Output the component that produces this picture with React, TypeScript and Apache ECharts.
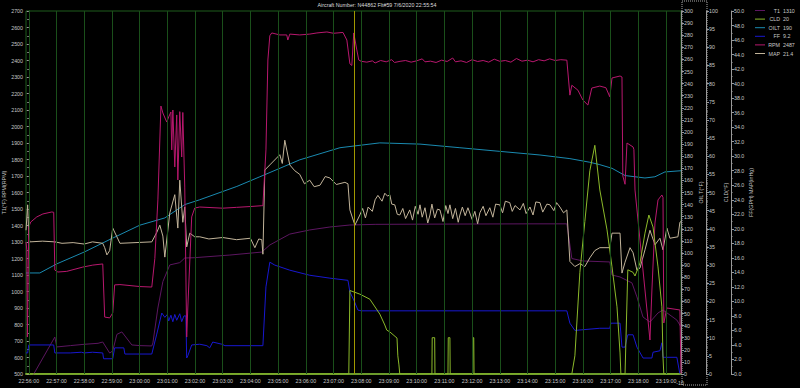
import React, { useEffect, useRef } from "react";
import * as echarts from "echarts";

const TITLE = "Aircraft Number: N44862 Flt#59 7/6/2020 22:55:54";
// x values are minutes after 22:56:00
const X_MIN = -0.1;
const X_MAX = 23.54;
const MINUTE_TICKS = Array.from({ length: 24 }, (_, i) => i);
const CURSOR_MIN = 11.73;

const LEGEND_NAMES = ["T1", "CLD", "OILT", "FF", "RPM", "MAP"];
const LEGEND_VALUES = ["1310", "20", "190", "9.2", "2487", "21.4"];
const COLORS = ["#5c1660", "#8cba2a", "#1a8ab0", "#1818d0", "#b8186e", "#c2b49a"];

const RPM: [number, number][] = [
  [-0.1, 1300], [-0.07, 1252], [-0.05, 724], [0, 1391], [0.07, 1421], [0.29, 1452], [0.51, 1470],
  [0.83, 1482], [0.9, 1480], [0.94, 1130], [1.05, 1118], [1.37, 1122], [1.95, 1148], [2.31, 1160],
  [2.67, 1167], [2.74, 845], [2.92, 840], [3.03, 870], [3.1, 1040], [3.29, 1042], [4.01, 1030],
  [4.44, 1027], [4.55, 1200], [4.66, 1555], [4.77, 2124], [4.84, 2082], [4.98, 2027], [5.05, 2058],
  [5.13, 2088], [5.16, 1858], [5.2, 2100], [5.27, 1755], [5.34, 2070], [5.38, 1676], [5.45, 2090],
  [5.52, 1815], [5.56, 2085], [5.63, 1633], [5.7, 724], [5.74, 900], [5.88, 1452], [5.99, 1506],
  [6.17, 1512], [7.0, 1505], [7.5, 1510], [8.0, 1515], [8.41, 1520], [8.45, 1520], [8.56, 1858],
  [8.63, 2403], [8.7, 2550], [8.77, 2567], [9.06, 2555], [9.31, 2555], [9.35, 2524], [9.42, 2560],
  [9.78, 2555], [10.14, 2560], [10.4, 2567], [10.76, 2573], [11.0, 2565], [11.34, 2570], [11.48, 2524],
  [11.59, 2380], [11.66, 2370], [11.73, 2567], [11.84, 2464], [11.91, 2403],
  [12.0, 2395], [12.2, 2390], [12.4, 2398], [12.5, 2385], [12.7, 2400], [12.9, 2392], [13.1, 2405],
  [13.2, 2388], [13.4, 2395], [13.6, 2400], [13.8, 2390], [14.0, 2398], [14.2, 2410], [14.3, 2392],
  [14.5, 2396], [14.7, 2388], [14.9, 2402], [15.1, 2394], [15.3, 2415], [15.4, 2392], [15.6, 2398],
  [15.8, 2388], [16.0, 2405], [16.2, 2394], [16.4, 2400], [16.6, 2390], [16.8, 2408], [17.0, 2395],
  [17.2, 2400], [17.4, 2390], [17.6, 2412], [17.8, 2396], [18.0, 2402], [18.2, 2392], [18.4, 2405],
  [18.6, 2398], [18.8, 2410], [19.0, 2400], [19.2, 2405], [19.42, 2402],
  [19.53, 2190], [19.6, 2250], [19.82, 2220], [20.0, 2160], [20.18, 2130], [20.32, 2233], [20.61, 2245],
  [20.83, 2235], [20.97, 2180], [21.05, 2294], [21.34, 2306], [21.41, 2300], [21.44, 1700], [21.52, 1650],
  [21.59, 1900], [21.81, 1876], [21.84, 1860], [21.88, 1615], [22.06, 1312], [22.24, 1009], [22.42, 706],
  [22.49, 1009], [22.6, 1415], [22.71, 1555], [22.85, 1585], [22.89, 1570], [22.92, 809], [23.03, 900],
  [23.5, 888], [23.54, 500],
];

const T1: [number, number][] = [
  [0.0, 450], [0.18, 500], [0.94, 724], [1.01, 664], [1.5, 672], [2.0, 680], [2.5, 686], [2.67, 694],
  [2.92, 627], [3.03, 640], [3.18, 740], [3.36, 755], [3.72, 676], [4.01, 672], [4.44, 670], [4.48, 688],
  [4.66, 900], [4.84, 1060], [5.09, 1161], [5.45, 1175], [5.63, 1203], [5.99, 1205], [7.26, 1221],
  [8.41, 1239], [8.7, 1282], [9.42, 1348], [10.14, 1373], [10.87, 1391], [11.59, 1403], [12.5, 1407],
  [14.0, 1408], [16.0, 1409], [18.0, 1410], [19.42, 1410], [19.6, 1200], [20.0, 1185], [20.97, 1179],
  [21.05, 1100], [21.34, 1088], [21.77, 1052], [21.95, 967], [22.17, 845], [22.42, 815], [22.71, 870],
  [22.89, 888], [23.39, 827], [23.54, 785],
];

const OILT: [number, number][] = [
  [-0.1, 83.5], [0.4, 83.5], [1.01, 91], [2.02, 101], [3.0, 112], [4.01, 123], [4.91, 129], [5.63, 140],
  [6.17, 144], [7.51, 155], [8.34, 163], [9.78, 177], [11.23, 187], [12.67, 191], [14.12, 190],
  [15.56, 187], [17.0, 184], [18.45, 181], [19.53, 178], [20.25, 175], [20.61, 173], [21.05, 170],
  [21.52, 164], [22.24, 162], [22.6, 163], [22.96, 167], [23.54, 168],
];

const FF: [number, number][] = [
  [-0.1, 2.9], [-0.04, 2.9], [0.0, 4.0], [0.9, 4.0], [0.94, 2.9], [1.5, 2.9], [1.9, 3.0], [2.0, 2.9],
  [2.3, 3.0], [2.67, 2.9], [2.7, 2.1], [3.03, 2.1], [3.1, 3.6], [3.43, 3.6], [3.47, 2.75], [4.44, 2.75],
  [4.62, 5.5], [4.8, 8.4], [4.91, 7.8], [5.0, 8.2], [5.05, 7.3], [5.13, 8.1], [5.2, 7.2], [5.27, 8.2],
  [5.34, 7.4], [5.45, 8.3], [5.52, 7.2], [5.6, 8.0], [5.67, 8.0], [5.7, 2.2], [5.74, 2.5], [5.88, 4.0],
  [6.17, 4.1], [6.43, 3.9], [6.53, 3.6], [6.64, 4.4], [6.97, 4.1], [7.08, 3.9], [8.45, 3.9], [8.56, 12],
  [8.7, 15.4], [8.88, 15.0], [9.42, 14.3], [10.14, 13.6], [10.87, 13.2], [11.52, 12.9], [11.59, 11.3],
  [11.73, 10.2], [11.88, 8.8], [12.0, 8.7], [19.42, 8.7], [19.53, 7.0], [19.71, 6.0], [20.61, 6.3],
  [20.97, 6.3], [21.01, 7.0], [21.34, 7.0], [21.41, 3.7], [21.52, 3.7], [21.62, 5.4], [21.81, 5.4],
  [21.95, 3.7], [22.17, 2.2], [22.49, 2.2], [22.53, 3.0], [22.78, 3.2], [22.85, 4.3], [22.89, 2.3],
  [23.39, 2.3], [23.5, 0], [23.54, 0],
];

const MAP: [number, number][] = [
  [-0.1, 19.8], [-0.04, 23.3], [0.0, 19.0], [0.04, 18.2], [0.5, 18.3], [0.94, 18.2], [1.2, 18.0],
  [1.6, 18.1], [2.0, 17.9], [2.3, 18.2], [2.67, 18.0], [2.74, 17.4], [2.82, 16.4], [2.92, 17.0],
  [3.03, 20.1], [3.18, 18.9], [3.29, 18.0], [4.44, 18.2], [4.62, 19.5], [4.73, 20.5], [4.84, 19.0],
  [4.91, 16.1], [5.09, 22.2], [5.27, 24.7], [5.38, 20.1], [5.45, 26.7], [5.56, 20.9], [5.63, 23.0],
  [5.7, 17.5], [5.81, 19.4], [5.99, 18.9], [6.17, 18.9], [6.5, 18.6], [7.0, 18.8], [7.5, 18.5],
  [8.0, 18.7], [8.16, 17.4], [8.3, 18.6], [8.41, 18.5], [8.45, 16.5], [8.52, 28.1], [8.7, 28.8],
  [9.06, 30.2], [9.15, 29.0], [9.24, 32.2], [9.42, 28.8], [9.6, 28.0], [9.78, 27.5], [9.95, 26.2],
  [10.14, 26.7], [10.3, 25.8], [10.51, 26.0], [10.7, 27.2], [10.87, 27.0], [11.1, 26.1], [11.41, 26.4],
  [11.52, 26.2], [11.59, 22.6], [11.77, 20.5], [11.95, 21.9], [12.05, 22.8], [12.15, 21.5], [12.25, 23.0],
  [12.4, 22.4], [12.5, 24.0], [12.6, 24.6], [12.75, 23.8], [12.85, 24.9], [12.95, 24.5], [13.03, 24.7],
  [13.1, 23.4], [13.21, 23.3], [13.3, 22.0], [13.39, 21.9], [13.5, 22.8], [13.6, 21.4], [13.75, 22.6],
  [13.85, 21.2], [13.95, 23.1], [14.05, 22.0], [14.12, 23.3], [14.2, 21.6], [14.3, 22.9], [14.4, 20.8],
  [14.48, 21.9], [14.55, 23.4], [14.65, 21.5], [14.75, 22.7], [14.84, 22.6], [14.95, 21.0], [15.05, 23.2],
  [15.13, 22.1], [15.2, 23.3], [15.3, 21.4], [15.4, 22.8], [15.5, 20.9], [15.56, 21.9], [15.65, 23.0],
  [15.75, 21.8], [15.85, 22.9], [16.0, 21.3], [16.1, 22.4], [16.2, 20.7], [16.28, 22.2], [16.4, 23.1],
  [16.5, 21.8], [16.64, 22.9], [16.75, 21.6], [16.85, 23.4], [17.0, 23.3], [17.1, 22.2], [17.2, 23.8],
  [17.36, 23.6], [17.45, 22.4], [17.55, 23.2], [17.73, 22.6], [17.85, 23.5], [17.95, 22.1], [18.09, 23.0],
  [18.2, 21.9], [18.3, 23.7], [18.45, 23.6], [18.55, 22.3], [18.7, 23.4], [18.81, 23.3], [18.95, 22.5],
  [19.05, 23.6], [19.17, 23.0], [19.3, 22.2], [19.42, 22.6], [19.53, 15.5], [19.71, 14.8], [19.89, 15.2],
  [20.07, 14.8], [20.25, 16.0], [20.43, 17.0], [20.61, 17.4], [20.97, 17.4], [21.05, 19.4], [21.34, 19.4],
  [21.41, 13.9], [21.52, 15.4], [21.7, 17.4], [21.81, 16.7], [21.95, 14.3], [22.06, 14.6], [22.24, 17.1],
  [22.42, 19.8], [22.6, 17.8], [22.78, 18.7], [22.89, 17.1], [23.03, 20.1], [23.14, 18.7], [23.43, 18.9],
  [23.5, 20.9], [23.54, 21.0],
];

const CLD: [number, number][] = [
  [-0.1, 0], [11.55, 0], [11.59, 23], [11.95, 22], [12.31, 20.6], [12.67, 16.5], [12.85, 13.5],
  [12.92, 12.1], [13.03, 11.6], [13.29, 9.9], [13.32, 5], [13.36, 2.5], [13.39, 0], [14.55, 0],
  [14.56, 10], [14.65, 10], [14.66, 0], [15.13, 0], [15.14, 10], [15.2, 10], [15.21, 0], [16.02, 0],
  [16.03, 10], [16.06, 10], [16.07, 0], [19.6, 0], [19.71, 5], [19.89, 28], [20.07, 42], [20.25, 56],
  [20.43, 63], [20.61, 50.7], [20.87, 39.7], [21.05, 29.5], [21.23, 18.5], [21.34, 5.8], [21.37, 0],
  [21.52, 0], [21.62, 28.7], [21.81, 28], [21.88, 27], [22.06, 30.6], [22.24, 38.8], [22.38, 43.8],
  [22.53, 40.5], [22.71, 29.5], [22.85, 18.5], [22.89, 4.7], [22.92, 0], [23.54, 0],
];

const FONT = "Liberation Sans, Arial, sans-serif";
const FS = 5.3;
const LABEL_COLOR = "#c8c8c8";

function fmtTime(v: number) {
  const total = 22 * 60 + 56 + Math.round(v);
  const h = Math.floor(total / 60);
  const m = total % 60;
  return `${h}:${String(m).padStart(2, "0")}:00`;
}

function yAxisBase(extra: any) {
  return {
    type: "value",
    splitLine: { show: false },
    axisLine: { show: true, lineStyle: { color: "#9a9a9a", width: 1 } },
    axisTick: { show: true, length: 3, lineStyle: { color: "#9a9a9a" } },
    axisLabel: { color: LABEL_COLOR, fontSize: FS, fontFamily: FONT, margin: 3, formatter: (v: number) => String(v) },
    nameLocation: "middle",
    nameRotate: 90,
    nameMoveOverlap: false,
    nameTextStyle: { color: LABEL_COLOR, fontSize: FS, fontFamily: FONT },
    ...extra,
  };
}

function line(name: string, data: [number, number][], color: string, yAxisIndex: number, width = 1) {
  return {
    name,
    type: "line",
    data,
    yAxisIndex,
    showSymbol: false,
    symbol: "none",
    lineStyle: { color, width },
    itemStyle: { color },
    silent: true,
    z: 3,
  };
}

export default function App() {
  const ref = useRef<HTMLDivElement>(null);
  useEffect(() => {
    document.body.style.margin = "0";
    document.body.style.background = "#000";
    const chart = echarts.init(ref.current!, null, { renderer: "svg" });
    const textStyle = (text: string, align: string) => ({
      text,
      fill: LABEL_COLOR,
      fontSize: FS,
      fontFamily: FONT,
      align,
      verticalAlign: "middle",
    });
    const legendGraphics: any[] = [];
    LEGEND_NAMES.forEach((n, i) => {
      const y = 10.5 + i * 8.6;
      legendGraphics.push({
        type: "line",
        shape: { x1: 755, y1: y, x2: 765, y2: y },
        style: { stroke: COLORS[i], lineWidth: 1 },
      });
      legendGraphics.push({ type: "text", x: 780, y, style: textStyle(n, "right") });
      legendGraphics.push({ type: "text", x: 783, y, style: textStyle(LEGEND_VALUES[i], "left") });
    });

    const option: any = {
      animation: false,
      backgroundColor: "#000000",
      tooltip: { show: false },
      grid: {
        left: 26,
        right: 119,
        top: 11,
        bottom: 14,
        show: true,
        borderColor: "#1f5c1d",
        borderWidth: 1,
        containLabel: false,
        outerBoundsMode: "none",
      },
      xAxis: {
        type: "value",
        min: X_MIN,
        max: X_MAX,
        splitLine: { show: false },
        axisLine: { show: true, onZero: false, lineStyle: { color: "#6b9b2b", width: 2 } },
        axisTick: { show: false },
        axisLabel: {
          customValues: MINUTE_TICKS,
          formatter: (v: number) => fmtTime(v),
          color: LABEL_COLOR,
          fontSize: FS,
          fontFamily: FONT,
          margin: 4,
        },
      },
      yAxis: [
        yAxisBase({
          position: "left",
          min: 500,
          max: 2700,
          interval: 100,
          name: "T1(°F) RPM(RPM)",
          nameGap: 20,
          axisLine: { show: true, lineStyle: { color: "#2f7a2f", width: 1 } },
          axisTick: { show: true, length: 2, lineStyle: { color: "#9a9a9a" } },
          minorTick: { show: true, splitNumber: 2, length: 1.5, lineStyle: { color: "#9a9a9a" } },
        }),
        yAxisBase({
          position: "right",
          offset: 0,
          min: 0,
          max: 300,
          interval: 10,
          name: "OIL T(°F)",
          nameGap: 17,
        }),
        yAxisBase({
          position: "right",
          offset: 25,
          min: 0,
          max: 100,
          interval: 5,
          name: "CLD(°F)",
          nameGap: 17,
          minorTick: { show: true, splitNumber: 2, length: 1.5, lineStyle: { color: "#9a9a9a" } },
        }),
        yAxisBase({
          position: "right",
          offset: 50,
          min: 0,
          max: 50,
          interval: 2,
          name: "FF(GPH) MAP(inHg)",
          nameGap: 17,
          minorTick: { show: true, splitNumber: 2, length: 1.5, lineStyle: { color: "#9a9a9a" } },
          axisLabel: {
            color: LABEL_COLOR,
            fontSize: FS,
            fontFamily: FONT,
            margin: 3,
            formatter: (v: number) => v.toFixed(1),
          },
        }),
      ],
      graphic: [
        {
          type: "text",
          x: 377,
          y: 5,
          style: { ...textStyle(TITLE, "center"), fill: "#dddddd" },
        },
        {
          type: "rect",
          shape: { x: 682, y: 1, width: 25, height: 384 },
          style: { fill: "none", stroke: "#aaaaaa", lineWidth: 1, lineDash: [1, 1] },
        },
        { type: "text", x: 684, y: 383, style: textStyle("-10", "right") },
        ...legendGraphics,
      ],
      series: [
        {
          name: "grid",
          type: "line",
          data: [[0, 500]],
          showSymbol: false,
          symbol: "none",
          lineStyle: { width: 0 },
          silent: true,
          z: 1,
          markLine: {
            silent: true,
            symbol: ["none", "none"],
            label: { show: false },
            emphasis: { disabled: true },
            lineStyle: { color: "#1a4f1a", width: 1, type: "solid" },
            data: [
              ...MINUTE_TICKS.map((m) => ({ xAxis: m })),
              { xAxis: CURSOR_MIN, lineStyle: { color: "#a09800", width: 1, type: "solid" } },
            ],
          },
        },
        line("OILT", OILT, COLORS[2], 1),
        line("T1", T1, COLORS[0], 0),
        line("FF", FF, COLORS[3], 3),
        line("MAP", MAP, COLORS[5], 3),
        line("RPM", RPM, COLORS[4], 0),
        line("CLD", CLD, COLORS[1], 2),
      ],
    };
    chart.setOption(option);
    return () => chart.dispose();
  }, []);
  return <div ref={ref} style={{ width: 800, height: 388, background: "#000" }} />;
}
